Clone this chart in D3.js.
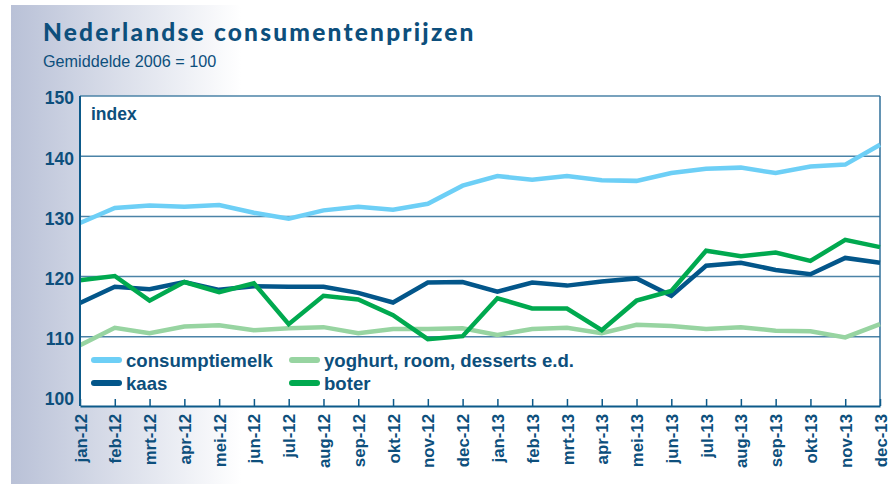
<!DOCTYPE html>
<html>
<head>
<meta charset="utf-8">
<script src="https://cdn.jsdelivr.net/npm/d3@7"></script>
<style>
  body { margin: 0; background: #fff; }
  svg { display: block; }
</style>
</head>
<body>
<script>
const months = ["jan-12","feb-12","mrt-12","apr-12","mei-12","jun-12","jul-12","aug-12","sep-12","okt-12","nov-12","dec-12",
                "jan-13","feb-13","mrt-13","apr-13","mei-13","jun-13","jul-13","aug-13","sep-13","okt-13","nov-13","dec-13"];

const consumptiemelk = [128.9,131.4,131.8,131.6,131.9,130.6,129.6,131.0,131.6,131.1,132.1,135.1,
                        136.7,136.1,136.7,136.0,135.9,137.2,137.9,138.1,137.2,138.3,138.6,141.9];
const yoghurt = [108.6,111.5,110.6,111.7,111.9,111.1,111.4,111.6,110.6,111.3,111.3,111.4,
                 110.3,111.3,111.5,110.6,112.0,111.8,111.3,111.6,111.0,110.9,109.9,112.1];
const kaas = [115.6,118.3,117.9,119.1,117.8,118.4,118.3,118.3,117.3,115.7,119.0,119.1,
              117.5,119.0,118.5,119.2,119.7,116.8,121.8,122.3,121.1,120.4,123.1,122.3];
const boter = [119.4,120.1,116.0,119.1,117.4,118.9,112.1,116.8,116.2,113.6,109.6,110.1,
               116.4,114.7,114.7,111.1,116.0,117.6,124.3,123.4,124.0,122.6,126.1,124.9];

const yTicks = [100, 110, 120, 130, 140, 150];

const series = [
  {name: "consumptiemelk", values: consumptiemelk, color: "#6dcff6"},
  {name: "yoghurt, room, desserts e.d.", values: yoghurt, color: "#97d4a1"},
  {name: "kaas", values: kaas, color: "#03568a"},
  {name: "boter", values: boter, color: "#00a94f"}
];

const W = 895, H = 484;
const margin = {top: 96, right: 15, bottom: 78, left: 80};
const width = W - margin.left - margin.right;
const height = H - margin.top - margin.bottom;
const textColor = "#0d4f7c";

const svg = d3.select("body").append("svg")
  .attr("width", W).attr("height", H);

// background gradient band on the left
const defs = svg.append("defs");
const grad = defs.append("linearGradient").attr("id", "bg").attr("x1", 0).attr("x2", 1);
grad.append("stop").attr("offset", 0).attr("stop-color", "#b9c1d7");
grad.append("stop").attr("offset", 1).attr("stop-color", "#ffffff");
svg.append("rect").attr("x", 11).attr("y", 5).attr("width", 230).attr("height", H - 5)
  .attr("fill", "url(#bg)");

// title
svg.append("text")
  .attr("x", 43).attr("y", 41)
  .attr("font-family", "Lato, sans-serif")
  .attr("font-weight", 900)
  .attr("font-size", 24.5)
  .attr("letter-spacing", 2.2)
  .attr("fill", textColor)
  .text("Nederlandse consumentenprijzen");

svg.append("text")
  .attr("x", 43).attr("y", 67)
  .attr("font-family", "'Liberation Sans', Arial, sans-serif")
  .attr("font-size", 16.2)
  .attr("fill", textColor)
  .text("Gemiddelde 2006 = 100");

const g = svg.append("g").attr("transform", "translate(" + margin.left + "," + margin.top + ")");

const xScale = d3.scalePoint().domain(months).range([0, width]);
const yScale = d3.scaleLinear().domain([98.5, 150]).range([height, 0]);

// plot background
g.append("rect").attr("width", width).attr("height", height).attr("fill", "#fff");

// gridlines
g.selectAll(".grid")
  .data(yTicks.filter(d => d > 100))
  .enter().append("line")
  .attr("class", "grid")
  .attr("x1", 0).attr("x2", width)
  .attr("y1", d => yScale(d)).attr("y2", d => yScale(d))
  .attr("stroke", "#4b83a7").attr("stroke-width", 1.5);

// right border
g.append("line").attr("x1", width).attr("x2", width).attr("y1", 0).attr("y2", height)
  .attr("stroke", "#2f6f9a").attr("stroke-width", 1.5);

// lines
const line = d3.line()
  .x((d, i) => xScale(months[i]))
  .y(d => yScale(d));

g.selectAll(".series")
  .data(series)
  .enter().append("path")
  .attr("class", "series")
  .attr("d", d => line(d.values))
  .attr("fill", "none")
  .attr("stroke", d => d.color)
  .attr("stroke-width", 4.5)
  .attr("stroke-linejoin", "miter");

// y axis
const yAxis = g.append("g")
  .call(d3.axisLeft(yScale).tickValues(yTicks).tickSize(0).tickPadding(6));
yAxis.select(".domain").remove();
yAxis.selectAll("text")
  .attr("font-family", "'Liberation Sans', Arial, sans-serif")
  .attr("font-weight", "bold")
  .attr("font-size", 17.5)
  .attr("fill", textColor)
  .attr("dy", "0.45em");

g.append("line").attr("x1", 0).attr("x2", 0).attr("y1", 0).attr("y2", height)
  .attr("stroke", "#0d5a8a").attr("stroke-width", 2);

// x axis
const xAxis = g.append("g")
  .attr("transform", "translate(0," + height + ")")
  .call(d3.axisBottom(xScale).tickSizeInner(-7).tickSizeOuter(0).tickPadding(0));
xAxis.select(".domain").attr("stroke", "#0d5a8a").attr("stroke-width", 2);
xAxis.selectAll(".tick line").attr("stroke", "#0d5a8a").attr("stroke-width", 1.5);
xAxis.selectAll("text")
  .attr("font-family", "'Liberation Sans', Arial, sans-serif")
  .attr("font-weight", "bold")
  .attr("font-size", 16.8)
  .attr("fill", textColor)
  .attr("text-anchor", "end")
  .attr("transform", "rotate(-90)")
  .attr("x", -8)
  .attr("y", 0)
  .attr("dy", "0.36em");

// index label
g.append("text")
  .attr("x", 11).attr("y", 24)
  .attr("font-family", "'Liberation Sans', Arial, sans-serif")
  .attr("font-weight", "bold")
  .attr("font-size", 17.5)
  .attr("fill", textColor)
  .text("index");

// legend
const legendPos = [[12, 264], [210, 264], [12, 287], [210, 287]];
const legend = g.selectAll(".legend")
  .data(series)
  .enter().append("g")
  .attr("class", "legend")
  .attr("transform", (d, i) => "translate(" + legendPos[i][0] + "," + legendPos[i][1] + ")");

legend.append("line")
  .attr("x1", 2).attr("x2", 27).attr("y1", 0).attr("y2", 0)
  .attr("stroke", d => d.color).attr("stroke-width", 6).attr("stroke-linecap", "round");

legend.append("text")
  .attr("x", 34).attr("y", 0).attr("dy", "0.36em")
  .attr("font-family", "'Liberation Sans', Arial, sans-serif")
  .attr("font-weight", "bold")
  .attr("font-size", 18.6)
  .attr("fill", textColor)
  .text(d => d.name);
</script>
</body>
</html>
